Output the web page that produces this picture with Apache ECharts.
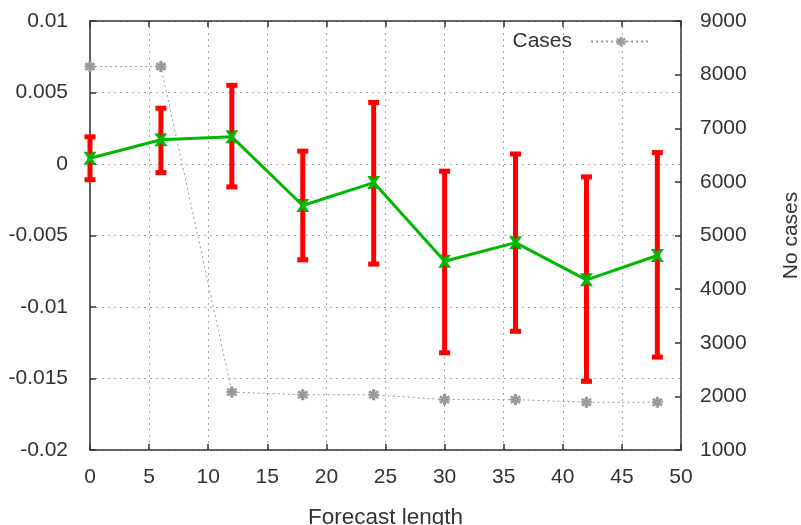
<!DOCTYPE html>
<html>
<head>
<meta charset="utf-8">
<script src="https://cdn.jsdelivr.net/npm/echarts@6/dist/echarts.min.js"></script>
<style>
  html, body { margin: 0; padding: 0; background: #fff; }
  #main { width: 801px; height: 525px; }
</style>
</head>
<body>
<div id="main"></div>
<script>
// forecast length (x) and values
var steps = [0, 6, 12, 18, 24, 30, 36, 42, 48];
var meanErr = [0.0004, 0.0017, 0.0019, -0.0029, -0.0013, -0.0068, -0.0055, -0.0081, -0.0064];
var errHigh = [0.0019, 0.0039, 0.0055, 0.0009, 0.0043, -0.0005, 0.0007, -0.0009, 0.0008];
var errLow = [-0.0011, -0.0006, -0.0016, -0.0067, -0.0070, -0.0132, -0.0117, -0.0152, -0.0135];
var cases = [8150, 8150, 2080, 2030, 2030, 1940, 1940, 1890, 1890];

var font = 'Liberation Sans';
var txt = '#333';
var axisCol = '#333';

var lineData = [], barData = [], caseData = [];
for (var i = 0; i < steps.length; i++) {
  lineData.push([steps[i], meanErr[i]]);
  barData.push([steps[i], errLow[i], errHigh[i]]);
  caseData.push([steps[i], cases[i]]);
}

var crossPath = 'path://M0,0L3,0L5,2.5L7,0L10,0L6.5,5L10,10L7,10L5,7.5L3,10L0,10L3.5,5Z';
var starPath = 'path://M3.5,0L6.5,0L6.5,2.5L8.5,1L10,3L7.5,4L10,4L10,6L7.5,6L10,7L8.5,9L6.5,7.5L6.5,10L3.5,10L3.5,7.5L1.5,9L0,7L2.5,6L0,6L0,4L2.5,4L0,3L1.5,1L3.5,2.5Z';

var myChart = echarts.init(document.getElementById('main'));
var option = {
  animation: false,
  textStyle: { fontFamily: font, color: txt },
  grid: { left: 90, right: 120, top: 21, bottom: 75, show: false, outerBoundsMode: 'none', containLabel: false },
  legend: {
    data: ['Cases'],
    right: 144,
    top: 26,
    align: 'right',
    itemWidth: 60,
    itemHeight: 12,
    textStyle: { fontFamily: font, fontSize: 21, color: txt, padding: [0, 14, 0, 0] }
  },
  xAxis: [{
    type: 'value',
    min: 0, max: 50, interval: 5,
    position: 'bottom',
    name: 'Forecast length',
    nameLocation: 'middle',
    nameGap: 56,
    nameMoveOverlap: false,
    nameTextStyle: { fontFamily: font, fontSize: 22.5, color: txt },
    axisLine: { onZero: false, lineStyle: { color: axisCol, width: 1.5 } },
    axisTick: { inside: true, length: 6, lineStyle: { color: axisCol, width: 1.5 } },
    axisLabel: { fontFamily: font, fontSize: 21, color: txt, margin: 17 },
    splitLine: { show: true, lineStyle: { color: '#aaa', type: [2, 4], width: 1 } }
  }, {
    type: 'value',
    min: 0, max: 50, interval: 5,
    position: 'top',
    axisLine: { onZero: false, lineStyle: { color: axisCol, width: 1.5 } },
    axisTick: { inside: true, length: 6, lineStyle: { color: axisCol, width: 1.5 } },
    axisLabel: { show: false },
    splitLine: { show: false }
  }],
  yAxis: [{
    type: 'value',
    min: -0.02, max: 0.01, interval: 0.005,
    position: 'left',
    axisLine: { show: true, onZero: false, lineStyle: { color: axisCol, width: 1.5 } },
    axisTick: { show: true, inside: true, length: 6, lineStyle: { color: axisCol, width: 1.5 } },
    axisLabel: { fontFamily: font, fontSize: 21, color: txt, margin: 22 },
    splitLine: { show: true, lineStyle: { color: '#aaa', type: [2, 4], width: 1 } }
  }, {
    type: 'value',
    min: 1000, max: 9000, interval: 1000,
    position: 'right',
    name: 'No cases',
    nameLocation: 'middle',
    nameRotate: 90,
    nameGap: 100,
    nameMoveOverlap: false,
    nameTextStyle: { fontFamily: font, fontSize: 21, color: txt },
    axisLine: { show: true, onZero: false, lineStyle: { color: axisCol, width: 1.5 } },
    axisTick: { show: true, inside: true, length: 6, lineStyle: { color: axisCol, width: 1.5 } },
    axisLabel: {
      fontFamily: font, fontSize: 21, color: txt, margin: 19,
      formatter: function (v) { return String(v); }
    },
    splitLine: { show: false }
  }],
  series: [{
    name: 'errbars',
    type: 'custom',
    xAxisIndex: 0,
    yAxisIndex: 0,
    z: 2,
    data: barData,
    renderItem: function (params, api) {
      var x = api.value(0);
      var lo = api.coord([x, api.value(1)]);
      var hi = api.coord([x, api.value(2)]);
      var st = { fill: '#ff0000' };
      return {
        type: 'group',
        children: [
          { type: 'rect', shape: { x: lo[0] - 2.5, y: hi[1], width: 5, height: lo[1] - hi[1] }, style: st },
          { type: 'rect', shape: { x: lo[0] - 5.5, y: hi[1] - 2.5, width: 11, height: 5 }, style: st },
          { type: 'rect', shape: { x: lo[0] - 5.5, y: lo[1] - 2.5, width: 11, height: 5 }, style: st }
        ]
      };
    }
  }, {
    name: 'Mean',
    type: 'line',
    xAxisIndex: 0,
    yAxisIndex: 0,
    z: 3,
    data: lineData,
    symbol: crossPath,
    symbolSize: 13,
    lineStyle: { color: '#00b800', width: 3 },
    itemStyle: { color: '#00b800' }
  }, {
    name: 'Cases',
    type: 'line',
    xAxisIndex: 0,
    yAxisIndex: 1,
    z: 1,
    data: caseData,
    symbol: starPath,
    symbolSize: 11,
    lineStyle: { color: '#999', width: 1, type: [2, 3] },
    itemStyle: { color: '#999' }
  }]
};
myChart.setOption(option);
</script>
</body>
</html>
